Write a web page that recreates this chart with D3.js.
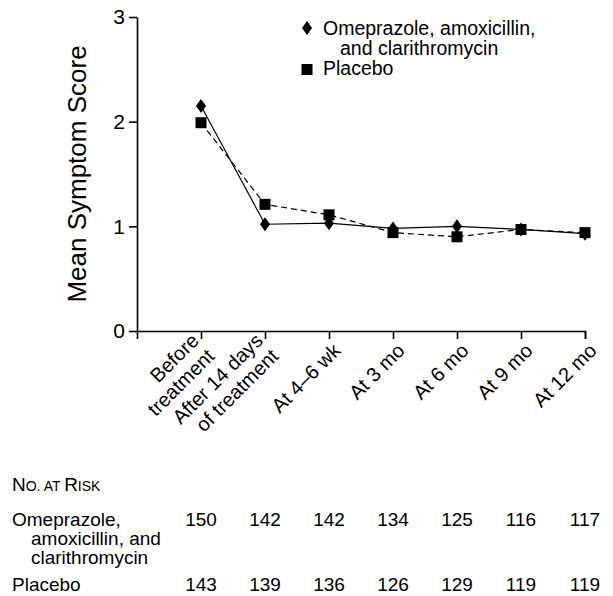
<!DOCTYPE html>
<html>
<head>
<meta charset="utf-8">
<script src="https://cdn.jsdelivr.net/npm/d3@7"></script>
<style>
  body { margin: 0; background: #fff; }
  svg text { font-family: "Liberation Sans", Arial, Helvetica, sans-serif; fill: #000; }
</style>
</head>
<body>
<svg id="chart" width="613" height="596"></svg>
<script>
var categories = [["Before", "treatment"], ["After 14 days", "of treatment"], ["At 4\u20136 wk"], ["At 3 mo"], ["At 6 mo"], ["At 9 mo"], ["At 12 mo"]];
var omeprazole = [2.15, 1.02, 1.03, 0.98, 1.00, 0.97, 0.93];
var placebo = [1.99, 1.21, 1.11, 0.94, 0.90, 0.97, 0.94];
var yTicks = [0, 1, 2, 3];
var seriesNames = [["Omeprazole, amoxicillin,", "and clarithromycin"], ["Placebo"]];
var riskLabels = [["Omeprazole,", "amoxicillin, and", "clarithromycin"], ["Placebo"]];
var riskOmeprazole = [150, 142, 142, 134, 125, 116, 117];
var riskPlacebo = [143, 139, 136, 126, 129, 119, 119];

var svg = d3.select("#chart");

var xscale = d3.scaleLinear()
    .domain([-1, categories.length - 1])
    .range([137, 585]);

var yscale = d3.scaleLinear()
    .domain([0, 3])
    .range([331, 17]);

var yaxis = d3.axisLeft(yscale)
    .tickValues(yTicks)
    .tickSize(8)
    .tickSizeOuter(0)
    .tickPadding(4)
    .tickFormat(d3.format("d"));

var xaxis = d3.axisBottom(xscale)
    .tickValues(d3.range(categories.length))
    .tickSize(8)
    .tickSizeOuter(8)
    .tickFormat("");

var gy = svg.append("g")
    .attr("transform", "translate(137,0)")
    .call(yaxis);
gy.selectAll("text").style("font-size", "21px");

var gx = svg.append("g")
    .attr("transform", "translate(0,331)")
    .call(xaxis);

svg.selectAll(".domain, .tick line")
    .attr("stroke", "#000")
    .attr("stroke-width", 1.6);

// rotated category labels, two-line ones pushed up so they straddle the tick
var xl = svg.append("g").selectAll("text")
    .data(categories)
    .enter().append("text")
    .attr("transform", function(d, i){ return "translate(" + (xscale(i) + 3 - (d.length - 1) * 4) + ",342) rotate(-45)"; })
    .attr("text-anchor", "end")
    .style("font-size", "20px");
xl.selectAll("tspan")
    .data(function(d){ return d.map(function(s){ return {s: s, n: d.length}; }); })
    .enter().append("tspan")
    .attr("x", 0)
    .attr("dy", function(d, i){ return i == 0 ? (0.7 - (d.n - 1) * 0.7) + "em" : "1.1em"; })
    .text(function(d){ return d.s; });

svg.append("text")
    .attr("transform", "translate(86,174) rotate(-90)")
    .attr("text-anchor", "middle")
    .style("font-size", "26px")
    .text("Mean Symptom Score");

var line = d3.line()
    .x(function(d, i){ return xscale(i); })
    .y(function(d){ return yscale(d); });

svg.append("path")
    .attr("d", line(placebo))
    .attr("fill", "none")
    .attr("stroke", "#000")
    .attr("stroke-width", 1.2)
    .attr("stroke-dasharray", "6,4");

svg.append("path")
    .attr("d", line(omeprazole))
    .attr("fill", "none")
    .attr("stroke", "#000")
    .attr("stroke-width", 1.2);

var diamond = "M0,-7L5,0L0,7L-5,0Z";

svg.selectAll("rect.pt")
    .data(placebo)
    .enter().append("rect")
    .attr("class", "pt")
    .attr("x", function(d, i){ return xscale(i) - 5.5; })
    .attr("y", function(d){ return yscale(d) - 5.5; })
    .attr("width", 11)
    .attr("height", 11)
    .attr("fill", "#000");

svg.selectAll("path.pt")
    .data(omeprazole)
    .enter().append("path")
    .attr("class", "pt")
    .attr("d", diamond)
    .attr("transform", function(d, i){ return "translate(" + xscale(i) + "," + yscale(d) + ")"; })
    .attr("fill", "#000");

// legend
var legend = svg.append("g");
legend.append("path")
    .attr("d", diamond)
    .attr("transform", "translate(307,28)")
    .attr("fill", "#000");
legend.append("rect")
    .attr("x", 301.5).attr("y", 64)
    .attr("width", 11).attr("height", 11)
    .attr("fill", "#000");
legend.append("text")
    .attr("x", 323).attr("y", 35)
    .style("font-size", "19.5px")
    .selectAll("tspan")
    .data(seriesNames[0])
    .enter().append("tspan")
    .attr("x", function(d, i){ return i == 0 ? 323 : 340; })
    .attr("dy", function(d, i){ return i == 0 ? 0 : 20; })
    .text(function(d){ return d; });
legend.append("text")
    .attr("x", 323).attr("y", 75)
    .style("font-size", "19.5px")
    .text(seriesNames[1][0]);

// number at risk table
var title = svg.append("text")
    .attr("x", 12).attr("y", 491)
    .style("font-size", "19px");
title.append("tspan").text("N");
title.append("tspan").style("font-size", "14px").text("O. AT ");
title.append("tspan").text("R");
title.append("tspan").style("font-size", "14px").text("ISK");

var rows = [
    {label: riskLabels[0], values: riskOmeprazole, y: 526},
    {label: riskLabels[1], values: riskPlacebo, y: 591}
];

rows.forEach(function(r){
    var t = svg.append("text")
        .attr("x", 12).attr("y", r.y)
        .style("font-size", "19px");
    t.selectAll("tspan")
        .data(r.label)
        .enter().append("tspan")
        .attr("x", function(d, i){ return i == 0 ? 12 : 31; })
        .attr("dy", function(d, i){ return i == 0 ? 0 : 19; })
        .text(function(d){ return d; });
    svg.selectAll(null)
        .data(r.values)
        .enter().append("text")
        .attr("x", function(d, i){ return xscale(i); })
        .attr("y", r.y)
        .attr("text-anchor", "middle")
        .style("font-size", "19px")
        .text(function(d){ return d; });
});
</script>
</body>
</html>
